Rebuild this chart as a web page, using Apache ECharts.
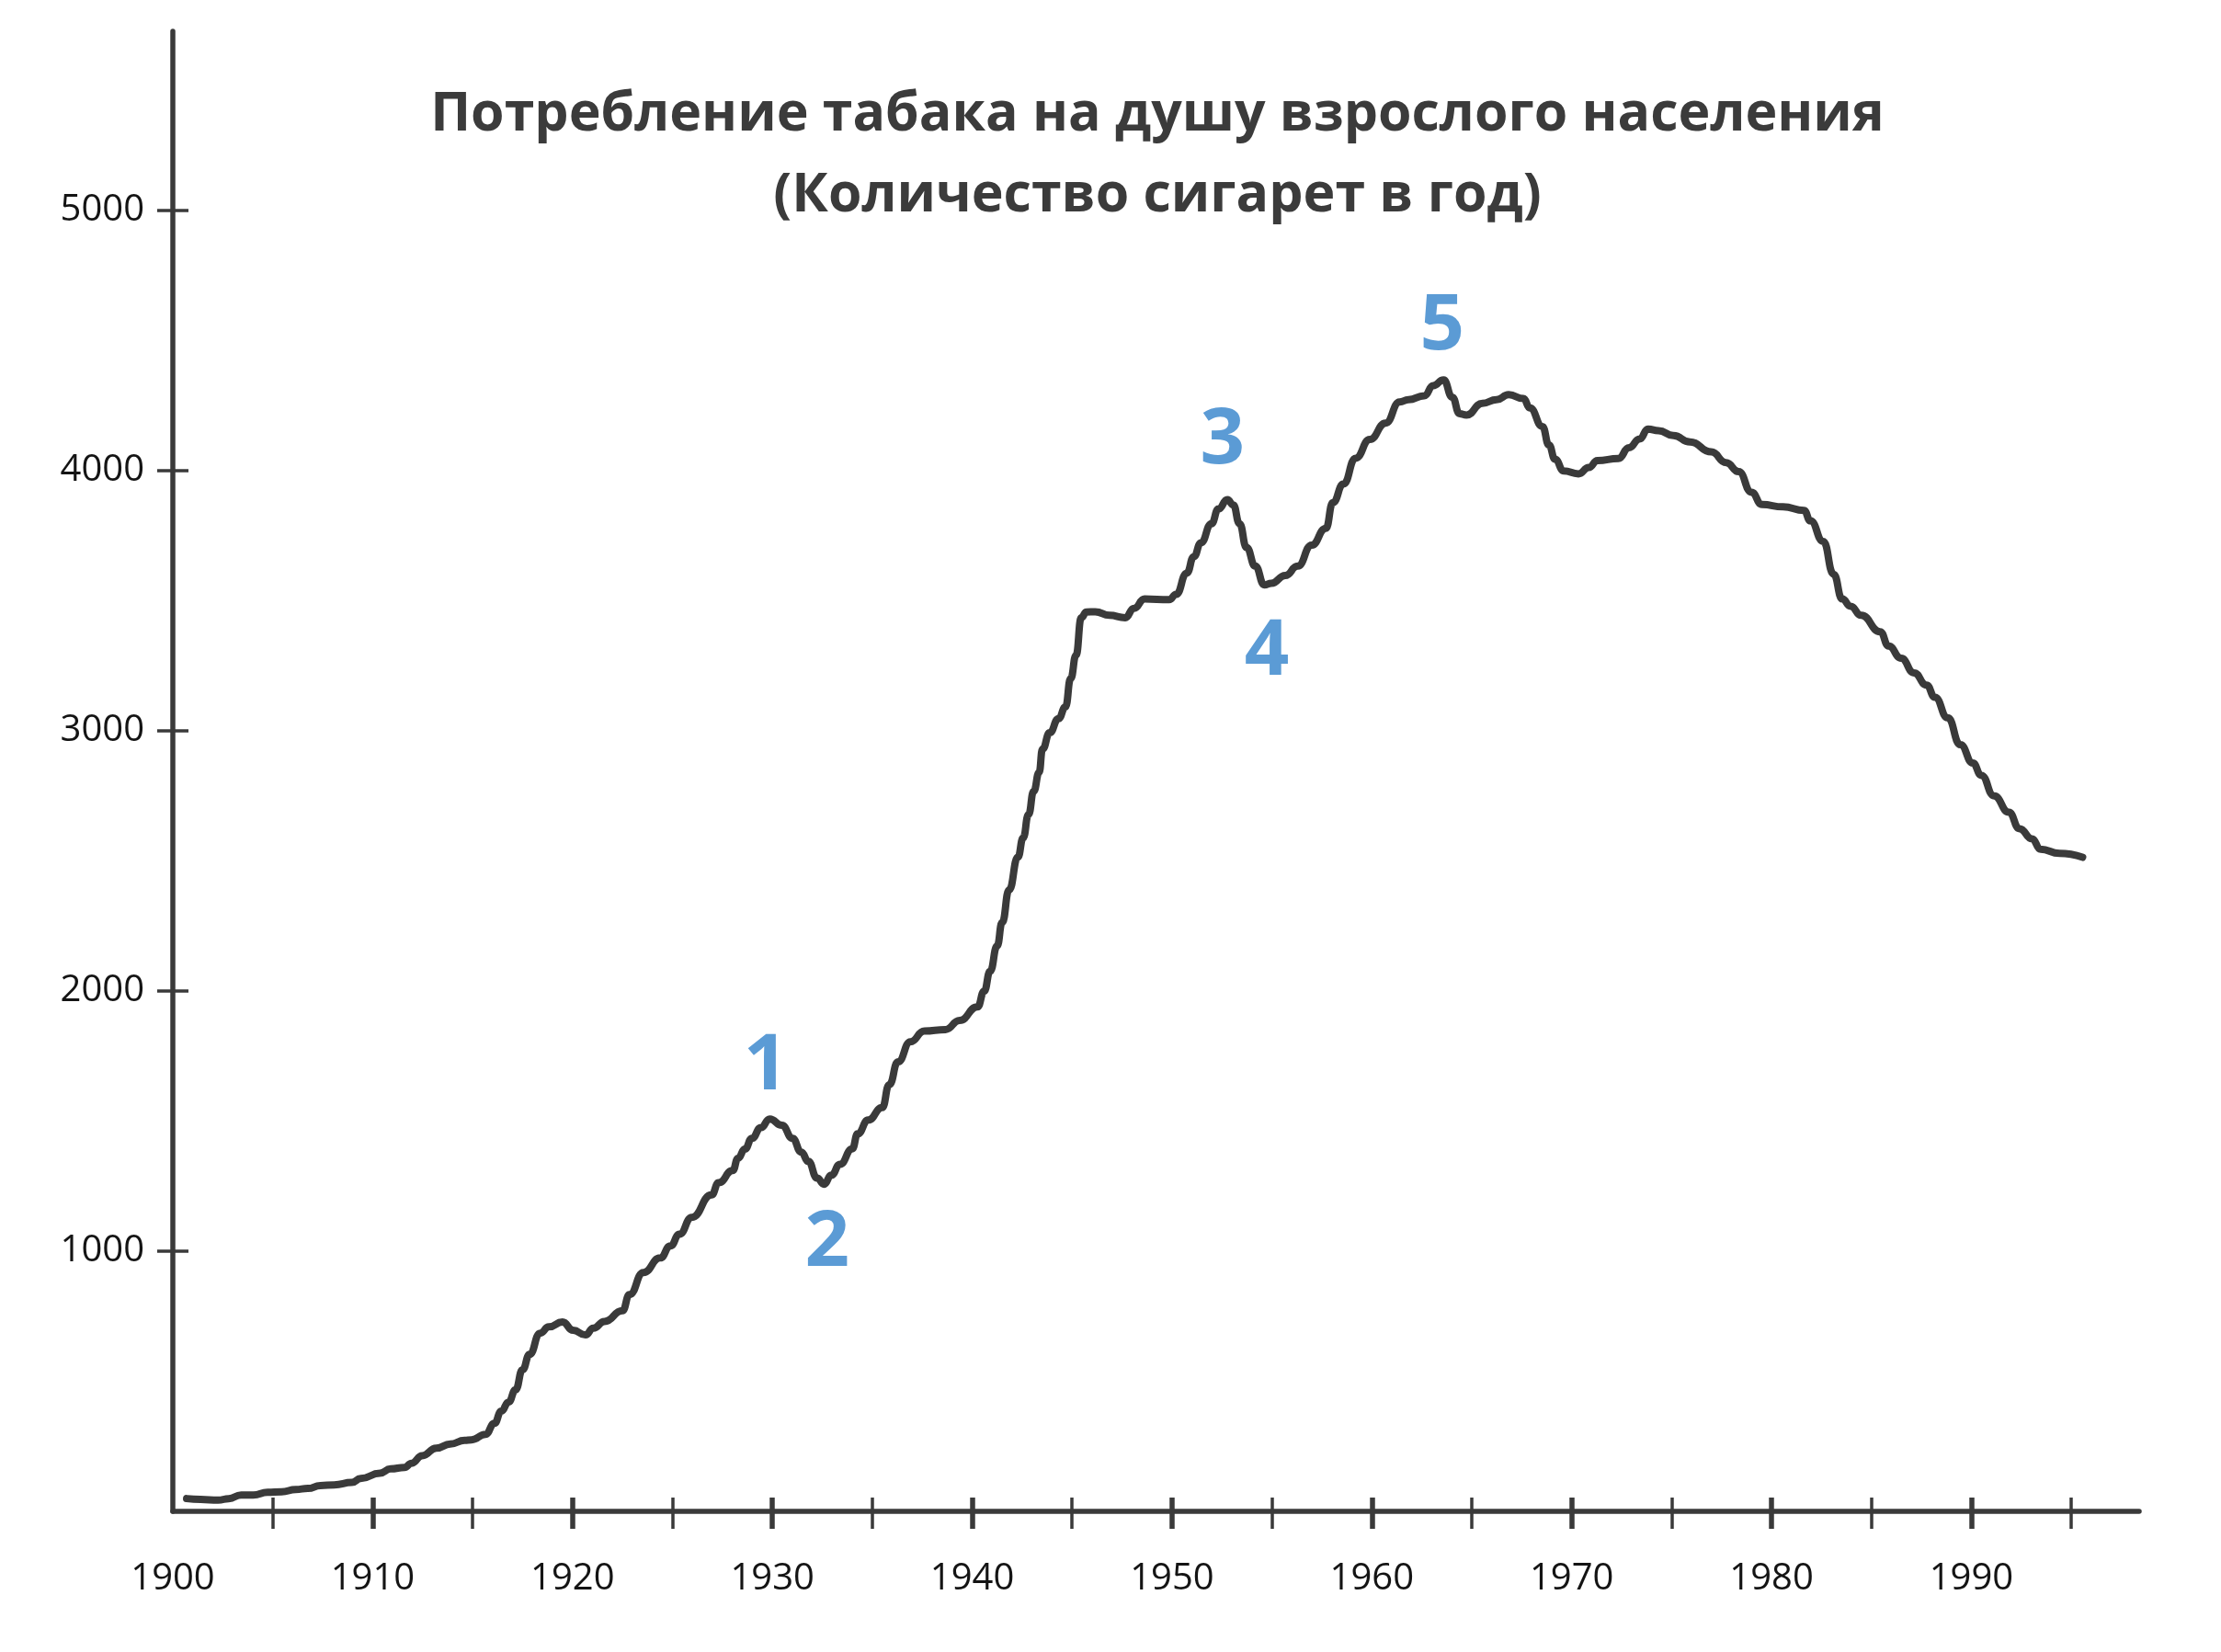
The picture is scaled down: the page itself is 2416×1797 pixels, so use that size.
<!DOCTYPE html>
<html>
<head>
<meta charset="utf-8">
<script src="https://cdn.jsdelivr.net/npm/echarts@6/dist/echarts.min.js"></script>
<style>
    html, body { margin: 0; padding: 0; background: #fff; }
    #chart { width: 2416px; height: 1797px; }
</style>
</head>
<body>
<div id="chart"></div>
<script>
// данные
const years = [
    1900.69, 1901.39, 1902.27, 1902.8, 1903.42, 1904.03, 1904.74, 1905.44, 1906.15, 1906.76,
    1907.38, 1908.08, 1908.96, 1909.4, 1910.37, 1910.9, 1911.6, 1911.95, 1912.48, 1913.19,
    1913.89, 1914.6, 1914.95, 1915.65, 1916.09, 1916.44, 1916.8, 1917.15, 1917.5, 1917.85,
    1918.38, 1918.82, 1919.5, 1920.03, 1920.65, 1921.04, 1921.6, 1922.5, 1922.85, 1923.55,
    1924.39, 1924.9, 1925.35, 1925.97, 1926.96, 1927.31, 1928.02, 1928.28, 1928.63, 1928.98,
    1929.43, 1929.87, 1930.48, 1931.01, 1931.45, 1931.8, 1932.24, 1932.59, 1932.95, 1933.39,
    1934.0, 1934.27, 1934.8, 1935.5, 1935.85, 1936.29, 1936.91, 1937.61, 1938.67, 1939.37,
    1940.27, 1940.6, 1940.9, 1941.25, 1941.5, 1941.85, 1942.29, 1942.55, 1942.82, 1943.08,
    1943.35, 1943.52, 1943.88, 1944.32, 1944.67, 1944.93, 1945.2, 1945.46, 1945.72, 1946.16,
    1946.87, 1947.66, 1948.1, 1948.63, 1949.86, 1950.21, 1950.74, 1951.09, 1951.45, 1951.97,
    1952.33, 1952.77, 1953.07, 1953.38, 1953.73, 1954.17, 1954.62, 1954.97, 1955.67, 1956.29,
    1956.99, 1957.7, 1958.05, 1958.58, 1959.19, 1959.9, 1960.69, 1961.39, 1961.83, 1962.63,
    1963.07, 1963.59, 1964.03, 1964.39, 1964.74, 1965.53, 1966.24, 1966.85, 1967.59, 1967.91,
    1968.54, 1968.86, 1969.17, 1969.6, 1970.34, 1970.86, 1971.29, 1972.34, 1972.87, 1973.4,
    1973.82, 1974.35, 1975.09, 1975.93, 1976.99, 1977.73, 1978.36, 1979.0, 1979.52, 1980.58,
    1981.63, 1981.95, 1982.59, 1983.11, 1983.54, 1983.96, 1984.49, 1985.44, 1985.86, 1986.49,
    1987.13, 1987.76, 1988.18, 1988.82, 1989.45, 1990.08, 1990.5, 1991.14, 1991.88, 1992.41,
    1993.04, 1993.46, 1994.41, 1995.57
];
const cigarettes = [
    49, 46, 43, 49, 63, 63, 73, 75, 84, 88,
    99, 102, 111, 126, 147, 163, 169, 185, 214, 243,
    259, 273, 275, 296, 338, 385, 420, 467, 544, 603,
    685, 709, 728, 696, 678, 704, 730, 771, 833, 918,
    974, 1020, 1065, 1130, 1216, 1263, 1310, 1357, 1393, 1434,
    1475, 1508, 1484, 1434, 1381, 1345, 1281, 1257, 1292, 1334,
    1393, 1451, 1504, 1552, 1640, 1728, 1805, 1846, 1852, 1887,
    1939, 1999, 2076, 2173, 2263, 2389, 2515, 2588, 2678, 2768,
    2840, 2930, 2993, 3047, 3092, 3201, 3291, 3435, 3457, 3458,
    3444, 3435, 3471, 3507, 3504, 3525, 3606, 3669, 3723, 3796,
    3853, 3889, 3868, 3796, 3705, 3633, 3561, 3567, 3597, 3633,
    3714, 3778, 3877, 3949, 4048, 4120, 4183, 4264, 4273, 4288,
    4327, 4349, 4282, 4219, 4214, 4259, 4273, 4292, 4277, 4241,
    4170, 4099, 4044, 3999, 3988, 4012, 4039, 4047, 4088, 4122,
    4160, 4154, 4135, 4110, 4072, 4031, 3996, 3917, 3870, 3861,
    3847, 3807, 3728, 3602, 3507, 3479, 3444, 3381, 3326, 3279,
    3223, 3176, 3129, 3050, 2947, 2876, 2829, 2750, 2687, 2624,
    2585, 2545, 2529, 2514
];

// подписи осей
const yTicks = [1000, 2000, 3000, 4000, 5000];
const decadeTicks = [1900, 1910, 1920, 1930, 1940, 1950, 1960, 1970, 1980, 1990];
const halfTicks = [1905, 1915, 1925, 1935, 1945, 1955, 1965, 1975, 1985, 1995];

// номера точек на кривой
const markLabels = ['1', '2', '3', '4', '5'];
const markYears = [1929.67, 1932.75, 1952.53, 1954.74, 1963.52];
const markValues = [1707, 1028, 4113, 3300, 4551];

const AXIS_COLOR = '#3a3a3a';
const FONT = '"Open Sans", "Noto Sans", sans-serif';
const X_MIN = 1900, X_MAX = 1998.4;
const Y_MIN = 0, Y_MAX = 5689;

const chart = echarts.init(document.getElementById('chart'));

// ось только с засечками (для засечек, пересекающих линию оси)
function tickAxis(values, inside, length, width) {
    return {
        type: 'value', min: X_MIN, max: X_MAX, position: 'bottom',
        axisLine: { show: false },
        axisTick: { show: true, inside: inside, length: length, customValues: values,
            lineStyle: { color: AXIS_COLOR, width: width } },
        axisLabel: { show: false },
        splitLine: { show: false }
    };
}

const option = {
    backgroundColor: '#ffffff',
    animation: false,
    title: {
        text: 'Потребление табака на душу взрослого населения\n(Количество сигарет в год)',
        left: 1254,
        top: 76,
        textAlign: 'center',
        textStyle: {
            fontFamily: FONT,
            fontSize: 59,
            fontWeight: 'bold',
            lineHeight: 88,
            color: '#3b3b3b'
        }
    },
    grid: { left: 188, right: 89, top: 34, bottom: 153 },
    xAxis: [
        {
            type: 'value', min: X_MIN, max: X_MAX, position: 'bottom',
            axisLine: { show: true, lineStyle: { color: AXIS_COLOR, width: 5.5 } },
            axisTick: { show: true, length: 19, customValues: halfTicks,
                lineStyle: { color: AXIS_COLOR, width: 3.5 } },
            axisLabel: {
                show: true, customValues: decadeTicks, margin: 54,
                formatter: v => String(v),
                fontFamily: FONT, fontSize: 40, color: '#141414'
            },
            splitLine: { show: false }
        },
        tickAxis(halfTicks, true, 15, 3.5),
        tickAxis(decadeTicks.slice(1), false, 19, 5.5),
        tickAxis(decadeTicks.slice(1), true, 15, 5.5)
    ],
    yAxis: [
        {
            type: 'value', min: Y_MIN, max: Y_MAX,
            axisLine: { show: true, lineStyle: { color: AXIS_COLOR, width: 5.5 } },
            axisTick: { show: true, length: 17, customValues: yTicks,
                lineStyle: { color: AXIS_COLOR, width: 3.5 } },
            axisLabel: {
                show: true, customValues: yTicks, margin: 31,
                formatter: v => String(v),
                fontFamily: FONT, fontSize: 40, color: '#141414'
            },
            splitLine: { show: false }
        },
        {
            type: 'value', min: Y_MIN, max: Y_MAX, position: 'left',
            axisLine: { show: false },
            axisTick: { show: true, inside: true, length: 17, customValues: yTicks,
                lineStyle: { color: AXIS_COLOR, width: 3.5 } },
            axisLabel: { show: false },
            splitLine: { show: false }
        }
    ],
    series: [
        {
            type: 'line',
            data: years.map((y, i) => [y, cigarettes[i]]),
            showSymbol: false,
            smooth: 0.5,
            smoothMonotone: 'x',
            lineStyle: { color: AXIS_COLOR, width: 8, cap: 'round', join: 'round' },
            markPoint: {
                symbol: 'circle',
                symbolSize: 1,
                itemStyle: { color: 'rgba(0,0,0,0)' },
                label: {
                    show: true,
                    position: 'inside',
                    formatter: '{b}',
                    fontFamily: FONT,
                    fontSize: 85,
                    fontWeight: 'bold',
                    color: '#5b9bd5'
                },
                data: markLabels.map((t, i) => ({ name: t, coord: [markYears[i], markValues[i]] }))
            }
        }
    ]
};

chart.setOption(option);
</script>
</body>
</html>
